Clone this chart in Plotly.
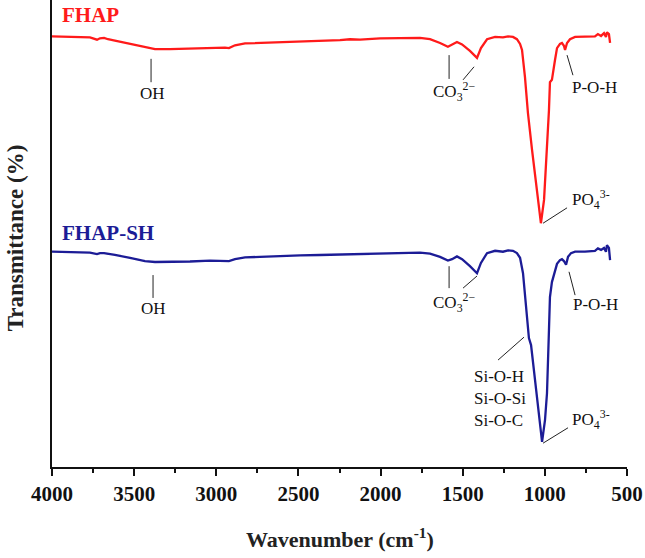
import plotly.graph_objects as go

# ---------------- data ----------------
wavenumber_fhap = [4000, 3890, 3769, 3726, 3708, 3683, 3659, 3617, 3525, 3434, 3373, 3282, 3160, 3038,
                   2947, 2923, 2886, 2825, 2734, 2612, 2490, 2369, 2247, 2186, 2125, 2003, 1882, 1760,
                   1699, 1638, 1590, 1565, 1535, 1504, 1456, 1413, 1389, 1352, 1303, 1255, 1224, 1194,
                   1170, 1151, 1139, 1121, 1103, 1078, 1054, 1036, 1024, 1005, 987, 975, 969, 957, 938,
                   926, 908, 896, 884, 877, 865, 847, 816, 756, 695, 677, 658, 640, 628, 622, 610, 603]
transmittance_fhap = [92.2, 92.1, 92.0, 91.5, 91.8, 91.9, 91.6, 91.3, 90.6, 89.8, 89.5, 89.5, 89.6, 89.8,
                      89.8, 89.7, 90.3, 90.7, 90.8, 91.0, 91.2, 91.3, 91.4, 91.6, 91.5, 91.8, 91.8, 91.9,
                      91.6, 90.8, 90.0, 90.4, 91.0, 90.5, 89.1, 87.6, 89.7, 91.6, 92.1, 92.0, 92.2, 92.1,
                      91.6, 90.6, 89.3, 83.5, 75.8, 67.9, 60.4, 55.0, 52.2, 57.2, 67.9, 76.4, 82.4, 82.9, 87.2,
                      89.7, 90.6, 90.8, 90.2, 89.3, 90.8, 91.6, 92.1, 92.1, 92.2, 92.7, 92.3, 92.9, 92.1, 93.1, 92.7, 90.8]

wavenumber_fhap_sh = [4000, 3890, 3769, 3726, 3708, 3683, 3659, 3617, 3525, 3434, 3373, 3282, 3160, 3038,
                      2947, 2923, 2886, 2825, 2734, 2612, 2490, 2369, 2247, 2186, 2125, 2003, 1882, 1760,
                      1699, 1638, 1590, 1565, 1535, 1504, 1456, 1413, 1389, 1352, 1303, 1255, 1224, 1194,
                      1170, 1151, 1133, 1121, 1109, 1097, 1084, 1066, 1048, 1030, 1017, 999, 987, 975, 969,
                      957, 938, 926, 908, 896, 884, 871, 859, 841, 816, 756, 695, 677, 658, 640, 628, 622, 610, 603]
transmittance_fhap_sh = [46.1, 46.0, 45.9, 45.6, 45.8, 45.8, 45.6, 45.4, 44.8, 44.1, 43.9, 43.9, 44.0, 44.2,
                         44.2, 44.1, 44.5, 44.9, 45.0, 45.2, 45.3, 45.4, 45.5, 45.7, 45.6, 45.8, 45.9, 45.9,
                         45.7, 45.0, 44.2, 44.5, 45.1, 44.5, 43.0, 41.5, 43.7, 45.8, 46.3, 46.1, 46.4, 46.3,
                         45.8, 44.8, 41.5, 36.8, 31.5, 27.6, 26.1, 20.8, 15.4, 9.0, 5.4, 10.1, 15.8, 29.3, 36.4,
                         39.6, 42.2, 43.5, 44.3, 44.5, 44.1, 43.3, 45.0, 45.8, 46.1, 46.1, 46.3, 46.8, 46.5, 46.9,
                         46.1, 47.5, 46.9, 44.3]

series_names = ["FHAP", "FHAP-SH"]
x_tick_values = [4000, 3500, 3000, 2500, 2000, 1500, 1000, 500]
x_tick_labels = ["4000", "3500", "3000", "2500", "2000", "1500", "1000", "500"]

RED = "#ff1a1a"
BLUE = "#1c1c96"
FONT = "Liberation Serif"

fig = go.Figure()
fig.add_trace(go.Scatter(x=wavenumber_fhap, y=transmittance_fhap, mode="lines",
                         line=dict(color=RED, width=2.3), name=series_names[0]))
fig.add_trace(go.Scatter(x=wavenumber_fhap_sh, y=transmittance_fhap_sh, mode="lines",
                         line=dict(color=BLUE, width=2.3), name=series_names[1]))

shapes = []
def seg(x0, y0, x1, y1):
    shapes.append(dict(type="line", xref="x", yref="y", x0=x0, y0=y0, x1=x1, y1=y1,
                       line=dict(color="#222222", width=1)))

annotations = []
def lab(x, y, text, size=17, xanchor="center", yanchor="middle", color="#111111", align="center"):
    annotations.append(dict(x=x, y=y, xref="x", yref="y", text=text, showarrow=False,
                            xanchor=xanchor, yanchor=yanchor, align=align,
                            font=dict(family=FONT, size=size, color=color)))

# series labels
lab(3951, 96.8, "<b>FHAP</b>", size=21, xanchor="left", color=RED)
lab(3951, 50.1, "<b>FHAP-SH</b>", size=21, xanchor="left", color=BLUE)

# OH
seg(3397, 87.4, 3397, 82.4)
lab(3390, 79.9, "OH")
seg(3385, 41.1, 3385, 36.2)
lab(3380, 34.0, "OH")

# CO3 2-
seg(1583, 88.2, 1583, 83.1)
seg(1498, 82.9, 1431, 85.7)
lab(1547, 80.5, "CO<sub>3</sub><sup>2−</sup>")
seg(1583, 43.0, 1583, 38.3)
seg(1498, 38.3, 1413, 40.9)
lab(1547, 35.3, "CO<sub>3</sub><sup>2−</sup>")

# P-O-H
seg(865, 88.2, 829, 83.9)
lab(695, 81.2, "P-O-H")
seg(853, 41.8, 816, 36.8)
lab(689, 34.7, "P-O-H")

# PO4 3-
seg(1011, 52.2, 865, 55.5)
lab(850, 57.2, "PO<sub>4</sub><sup>3-</sup>", xanchor="left")
seg(1011, 5.1, 859, 8.4)
lab(850, 10.1, "PO<sub>4</sub><sup>3-</sup>", xanchor="left")

# Si-O bands
seg(1285, 22.9, 1127, 27.8)
lab(1443, 14.6, "Si-O-H<br>Si-O-Si<br>Si-O-C", xanchor="left", align="left")

# axis titles
annotations.append(dict(x=-0.064, y=0.49, xref="paper", yref="paper", text="<b>Transmittance (%)</b>",
                        textangle=-90, showarrow=False, xanchor="center", yanchor="middle",
                        font=dict(family=FONT, size=23, color="#222222")))
annotations.append(dict(x=0.5, y=-0.152, xref="paper", yref="paper",
                        text="<b>Wavenumber (cm<sup>-1</sup>)</b>",
                        showarrow=False, xanchor="center", yanchor="middle",
                        font=dict(family=FONT, size=22, color="#222222")))

fig.update_layout(
    width=645, height=558,
    margin=dict(l=52, r=18, t=0, b=91),
    paper_bgcolor="white", plot_bgcolor="white",
    showlegend=False,
    shapes=shapes, annotations=annotations,
    xaxis=dict(range=[4000, 500], tickvals=x_tick_values,
               ticktext=["<b>" + t + "</b>" for t in x_tick_labels],
               showline=True, linecolor="#111111", linewidth=2, mirror=False,
               ticks="outside", ticklen=7, tickwidth=2, tickcolor="#111111",
               minor=dict(ticks="outside", ticklen=4, tickwidth=2, dtick=250, tickcolor="#111111", showgrid=False),
               showgrid=False, zeroline=False,
               tickfont=dict(family=FONT, size=21, color="#111111")),
    yaxis=dict(range=[0, 100], showline=True, linecolor="#111111", linewidth=2,
               showticklabels=False, ticks="", showgrid=False, zeroline=False),
)

fig.write_html("out.html", config={"displayModeBar": False},
               post_script="document.body.style.margin='0';document.body.style.overflow='hidden';")
